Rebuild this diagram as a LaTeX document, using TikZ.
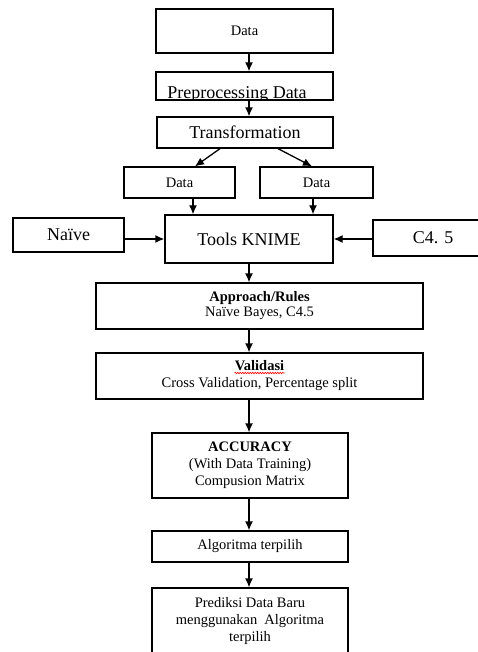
\documentclass[tikz,border=0pt]{standalone}
\usepackage{fontspec}
\setmainfont{Liberation Serif}
\usetikzlibrary{arrows.meta,calc,decorations.pathmorphing}
\tikzset{
  kotak/.style={draw, line width=1.3pt, inner sep=0pt, align=center, font=\fontsize{14.5}{17}\selectfont},
  kotakbesar/.style={kotak, font=\fontsize{18}{20}\selectfont},
  panah/.style={-{Latex[length=9pt,width=8pt]}, line width=1.3pt}
}
\begin{document}
\begin{tikzpicture}[x=1pt,y=-1pt]
    \useasboundingbox (0,0) rectangle (477,652);

    \node[kotak, minimum width=177pt, minimum height=44pt] (data) at (244.5,31) {Data};
    \node[kotak, minimum width=177pt, minimum height=28pt,
      path picture={\node[font=\fontsize{18}{20}\selectfont, xshift=-7.5pt, yshift=-8pt]
        at (path picture bounding box.center) {Preprocessing Data};}] (prep) at (244.5,86) {};
    \node[kotakbesar, minimum width=176pt, minimum height=31pt] (trans) at (245,132.5) {Transformation};

    \node[kotak, minimum width=111pt, minimum height=31pt] (dataL) at (179.5,182.5) {Data};
    \node[kotak, minimum width=113pt, minimum height=31pt] (dataR) at (316.5,182.5) {Data};

    \node[kotakbesar, minimum width=111pt, minimum height=34pt] (naive) at (68.5,235) {Naïve};
    \node[kotakbesar, minimum width=168pt, minimum height=48pt] (tools) at (249,239) {Tools KNIME};
    \node[kotakbesar, minimum width=120pt, minimum height=36pt] (c45) at (433,238) {C4. 5};

    \node[kotak, minimum width=327pt, minimum height=46pt, font=\fontsize{14.5}{15}\selectfont] (appr) at (259.5,306) {\textbf{Approach/Rules}\\Naïve Bayes, C4.5};
    \node[kotak, minimum width=327pt, minimum height=46pt] (valid) at (259.5,376) {\textbf{Validasi}\\Cross Validation, Percentage split};
    \draw[red, line width=0.6pt, decorate, decoration={snake, amplitude=0.7pt, segment length=2.5pt}]
      ($(valid.center)+(-25,-3)$) -- ($(valid.center)+(25,-3)$);

    \node[kotak, minimum width=196pt, minimum height=65pt] (acc) at (250,465.5) {\textbf{ACCURACY}\\(With Data Training)\\Compusion Matrix};
    \node[kotak, minimum width=196pt, minimum height=31pt] (algo) at (250,546.5) {Algoritma terpilih};
    \node[kotak, minimum width=196pt, minimum height=66pt] (pred) at (250,621) {Prediksi Data Baru\\menggunakan\ \ Algoritma\\terpilih};

    \draw[panah] (data.south -| tools) -- (prep.north -| tools);
    \draw[panah] (prep.south -| tools) -- (trans.north -| tools);

    \coordinate (tl) at ($(trans.south)+(-25,0)$);
    \coordinate (tr) at ($(trans.south)+(33,0)$);
    \draw[panah] (tl) -- ($(dataL.north)+(15.5,0)$);
    \draw[panah] (tr) -- ($(dataR.north)+(-4.5,0)$);

    \coordinate (dl) at ($(dataL.south)+(13.5,0)$);
    \coordinate (dr) at ($(dataR.south)+(-3.5,0)$);
    \draw[panah] (dl) -- (dl |- tools.north);
    \draw[panah] (dr) -- (dr |- tools.north);

    \draw[panah] (naive.east |- tools.west) -- (tools.west);
    \draw[panah] (c45.west |- tools.east) -- (tools.east);

    \draw[panah] (tools.south) -- (tools.south |- appr.north);
    \draw[panah] (appr.south -| tools) -- (valid.north -| tools);
    \draw[panah] (valid.south -| tools) -- (acc.north -| tools);
    \draw[panah] (acc.south -| tools) -- (algo.north -| tools);
    \draw[panah] (algo.south -| tools) -- (pred.north -| tools);
\end{tikzpicture}
\end{document}
